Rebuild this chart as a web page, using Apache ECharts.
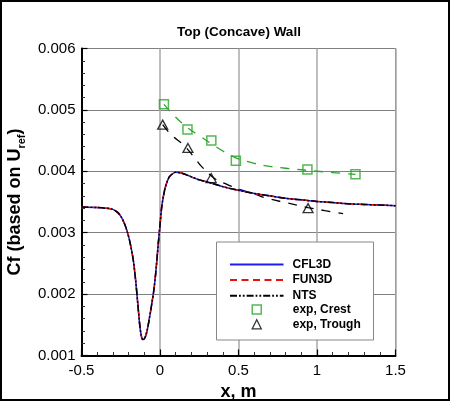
<!DOCTYPE html>
<html>
<head>
<meta charset="utf-8">
<script src="https://cdn.jsdelivr.net/npm/echarts@6/dist/echarts.min.js"></script>
<style>
html,body{margin:0;padding:0;background:#fff;}
#wrap{position:relative;width:450px;height:401px;}
#chart{width:450px;height:401px;}
#frame{position:absolute;left:0;top:0;width:450px;height:401px;box-sizing:border-box;border:2px solid #000;pointer-events:none;}
</style>
</head>
<body>
<div id="wrap"><div id="chart"></div><div id="frame"></div></div>
<script>
// CFD solutions (x in m, Cf)
const cfdX = [-0.5,-0.4,-0.35,-0.3,-0.27,-0.25,-0.23,-0.21,-0.19,-0.17,-0.155,-0.14,-0.13,-0.12,-0.11,-0.10,-0.09,-0.08,-0.07,-0.06,-0.05,-0.04,-0.03,-0.02,-0.01,0.0,0.01,0.02,0.03,0.04,0.05,0.06,0.08,0.10,0.12,0.15,0.2,0.25,0.3,0.4,0.5,0.6,0.7,0.8,0.9,1.0,1.1,1.2,1.3,1.4,1.5];
const cfl3dCf = [0.00342,0.00341,0.00340,0.00338,0.00333,0.00327,0.00317,0.00303,0.00283,0.00255,0.00222,0.00180,0.00152,0.00133,0.00126,0.00127,0.00133,0.00143,0.00157,0.00172,0.00188,0.00205,0.00227,0.00255,0.00285,0.00312,0.00340,0.00357,0.00370,0.00379,0.00386,0.00391,0.00396,0.003985,0.00398,0.00396,0.00391,0.00386,0.00383,0.00375,0.00369,0.00364,0.00360,0.00356,0.003535,0.00351,0.00349,0.00347,0.00346,0.00345,0.00344];
const fun3dCf = [0.00342,0.00341,0.00340,0.00338,0.00333,0.00327,0.00317,0.00303,0.00283,0.00255,0.00222,0.00180,0.00152,0.00133,0.00126,0.00127,0.00133,0.00143,0.00157,0.00172,0.00188,0.00205,0.00227,0.00255,0.00285,0.00312,0.00340,0.00357,0.00370,0.00379,0.00386,0.00391,0.00396,0.003985,0.00398,0.00396,0.00391,0.00386,0.00383,0.00375,0.00369,0.00364,0.00360,0.00356,0.003535,0.00351,0.00349,0.00347,0.00346,0.00345,0.00344];
const ntsCf = [0.00342,0.00341,0.00340,0.00338,0.00333,0.00327,0.00317,0.00303,0.00283,0.00255,0.00222,0.00180,0.00152,0.00133,0.00126,0.00127,0.00133,0.00143,0.00157,0.00172,0.00188,0.00205,0.00227,0.00255,0.00285,0.00312,0.00340,0.00357,0.00370,0.00379,0.00386,0.00391,0.00396,0.003985,0.00398,0.00396,0.00391,0.00386,0.00383,0.00375,0.00369,0.00364,0.00360,0.00356,0.003535,0.00351,0.00349,0.00347,0.00346,0.00345,0.00344];

// Experimental data
const crestX = [0.025,0.175,0.327,0.483,0.939,1.245];
const crestCf = [0.00509,0.00468,0.00450,0.00417,0.00403,0.00395];
const troughX = [0.017,0.178,0.326,0.943];
const troughCf = [0.00476,0.00438,0.00389,0.00340];

// Fit curves through experimental data
const crestFitX = [0.025,0.1,0.175,0.25,0.327,0.4,0.483,0.6,0.7,0.8,0.939,1.1,1.245];
const crestFitCf = [0.00509,0.00488,0.00471,0.00458,0.00445,0.00433,0.00422,0.00413,0.00408,0.00405,0.004015,0.00398,0.00395];
const troughFitX = [0.017,0.073,0.15,0.22,0.264,0.35,0.433,0.487,0.614,0.667,0.8,0.943,1.05,1.166];
const troughFitCf = [0.00476,0.00459,0.00443,0.00422,0.00408,0.00388,0.00378,0.00372,0.00362,0.00357,0.00349,0.00341,0.00336,0.00331];

// Axis settings
const xTicks = [-0.5,0,0.5,1,1.5];
const yTicks = [0.001,0.002,0.003,0.004,0.005,0.006];
const lineNames = ['CFL3D', 'FUN3D', 'NTS'];
const expNames = ['exp, Crest', 'exp, Trough'];

const pairs = (xs, ys) => xs.map((x, i) => [x, ys[i]]);
const FONT = "'Liberation Sans', Arial, Helvetica, sans-serif";
const GREEN = '#2aa52a';
const legendText = {fontFamily: FONT, fontSize: 12, fontWeight: 'bold', color: '#000'};

const chart = echarts.init(document.getElementById('chart'), null, {renderer: 'canvas'});
chart.setOption({
  backgroundColor: '#fff',
  animation: false,
  title: {
    text: 'Top (Concave) Wall',
    left: 239, top: 25, textAlign: 'center', padding: 0,
    textStyle: {fontFamily: FONT, fontSize: 13.5, fontWeight: 'bold', color: '#000'}
  },
  graphic: [{
    type: 'rect', z: 90, silent: true,
    shape: {x: 216.5, y: 242, width: 157, height: 98},
    style: {fill: '#fff', stroke: '#888', lineWidth: 1}
  }],
  grid: {left: 81.5, right: 54.5, top: 48.5, bottom: 45.5, containLabel: false, outerBoundsMode: 'none',
         show: true, borderColor: '#777', borderWidth: 1, backgroundColor: 'transparent'},
  legend: [{
    orient: 'vertical', left: 229, top: 258.5, padding: 0, z: 100,
    itemWidth: 53.5, itemHeight: 9, itemGap: 3.6,
    textStyle: Object.assign({padding: [0, 0, 0, 4]}, legendText),
    data: lineNames.map(n => ({name: n, itemStyle: {opacity: 0, borderWidth: 0}}))
  }, {
    orient: 'vertical', left: 251.5, top: 303.5, padding: 0, z: 100,
    itemWidth: 9, itemHeight: 9, itemGap: 2.8,
    textStyle: Object.assign({padding: [0, 0, 0, 26.5]}, legendText),
    data: [
      {name: expNames[0], itemStyle: {color: 'rgba(255,255,255,0)', borderColor: GREEN, borderWidth: 1.5}},
      {name: expNames[1], itemStyle: {color: 'rgba(255,255,255,0)', borderColor: '#000', borderWidth: 1.3}}
    ]
  }],
  xAxis: {
    type: 'value', min: xTicks[0], max: xTicks[xTicks.length - 1], interval: 0.5,
    name: 'x, m', nameLocation: 'middle', nameGap: 19,
    nameTextStyle: {fontFamily: FONT, fontSize: 18, fontWeight: 'bold', color: '#000'},
    axisLine: {show: true, onZero: false, lineStyle: {color: '#000', width: 2}},
    axisTick: {show: true, inside: true, length: 6, lineStyle: {color: '#000', width: 1.2}},
    minorTick: {show: true, splitNumber: 5, length: 3.5, lineStyle: {color: '#333', width: 1}},
    splitLine: {show: true, lineStyle: {color: '#a8a8a8', width: 1.5}},
    axisLabel: {fontFamily: FONT, fontSize: 15, color: '#000', margin: 8, formatter: v => String(v)}
  },
  yAxis: {
    type: 'value', min: yTicks[0], max: yTicks[yTicks.length - 1], interval: 0.001,
    name: '{a|Cf (based on U}{s|ref}{a|)}', nameLocation: 'middle', nameGap: 45,
    nameTextStyle: {
      fontFamily: FONT, fontSize: 18, fontWeight: 'bold', color: '#000',
      rich: {
        a: {fontFamily: FONT, fontSize: 18, fontWeight: 'bold', color: '#000', lineHeight: 22, verticalAlign: 'bottom'},
        s: {fontFamily: FONT, fontSize: 11, fontWeight: 'bold', color: '#000', lineHeight: 22, verticalAlign: 'bottom', padding: [0, 0, -3, 0]}
      }
    },
    axisLine: {show: true, onZero: false, lineStyle: {color: '#000', width: 2}},
    axisTick: {show: true, inside: true, length: 6, lineStyle: {color: '#000', width: 1.2}},
    minorTick: {show: true, splitNumber: 5, length: 3.5, lineStyle: {color: '#333', width: 1}},
    splitLine: {show: true, lineStyle: {color: '#808080', width: 1}},
    axisLabel: {fontFamily: FONT, fontSize: 15, color: '#000', margin: 6, formatter: v => v.toFixed(3)}
  },
  series: [
    {name: 'CFL3D', type: 'line', data: pairs(cfdX, cfl3dCf), smooth: 0.3, symbol: 'none', showSymbol: false,
     lineStyle: {color: '#1c1cf0', width: 1.5}, itemStyle: {color: '#1c1cf0'}, z: 3},
    {name: 'FUN3D', type: 'line', data: pairs(cfdX, fun3dCf), smooth: 0.3, symbol: 'none', showSymbol: false,
     lineStyle: {color: '#e81010', width: 1.5, type: [7, 4.5]}, itemStyle: {color: '#e81010'}, z: 4},
    {name: 'NTS', type: 'line', data: pairs(cfdX, ntsCf), smooth: 0.3, symbol: 'none', showSymbol: false,
     lineStyle: {color: '#000', width: 1.5, type: [7, 2, 1.8, 2, 1.8, 2]}, itemStyle: {color: '#000'}, z: 5},
    {name: 'crestFit', type: 'line', data: pairs(crestFitX, crestFitCf), smooth: 0.4, symbol: 'none', showSymbol: false,
     lineStyle: {color: GREEN, width: 1.3, type: [9, 8]}, z: 2},
    {name: 'troughFit', type: 'line', data: pairs(troughFitX, troughFitCf), smooth: 0.4, symbol: 'none', showSymbol: false,
     lineStyle: {color: '#000', width: 1.3, type: [9, 8]}, z: 2},
    {name: 'exp, Crest', type: 'scatter', data: pairs(crestX, crestCf), symbol: 'rect', symbolSize: 9,
     itemStyle: {color: 'rgba(255,255,255,0)', borderColor: GREEN, borderWidth: 1.5}, z: 6},
    {name: 'exp, Trough', type: 'scatter', data: pairs(troughX, troughCf), symbol: 'triangle', symbolSize: [10, 9],
     itemStyle: {color: 'rgba(255,255,255,0)', borderColor: '#000', borderWidth: 1.3}, z: 6}
  ]
});
</script>
</body>
</html>
